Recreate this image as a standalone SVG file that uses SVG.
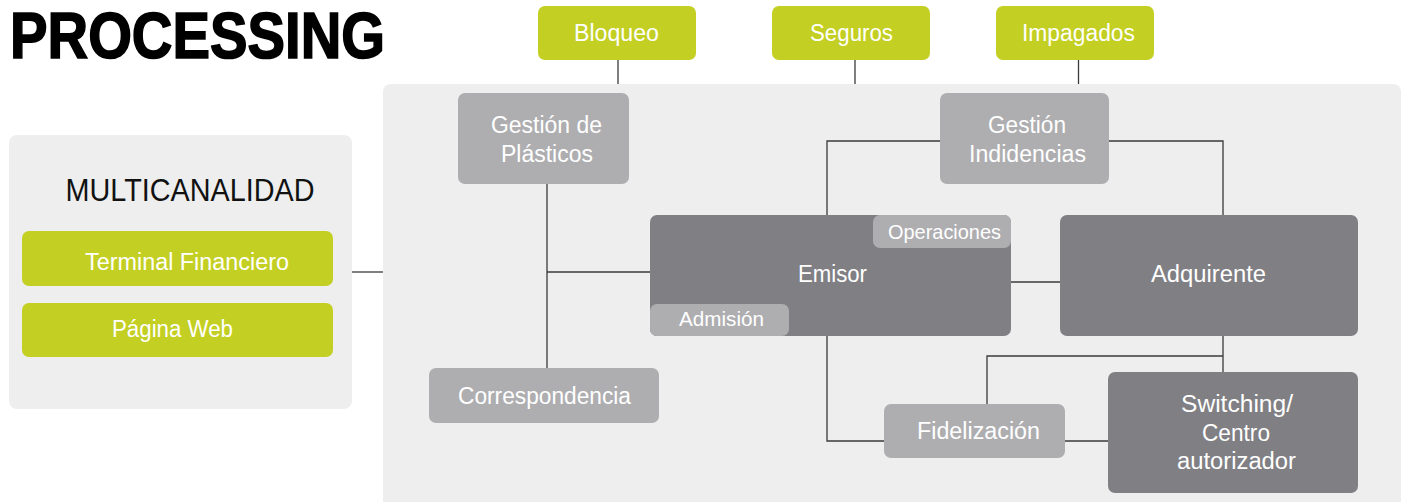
<svg xmlns="http://www.w3.org/2000/svg" width="1408" height="502" viewBox="0 0 1408 502">
<style>
.panel{fill:#eeeeee}
.green{fill:#c3cf22}
.light{fill:#aeaeb1}
.dark{fill:#807f84}
.lbl{font-family:"Liberation Sans","DejaVu Sans",sans-serif;font-size:23px;fill:#ffffff;text-anchor:middle}
.sm{font-size:21px}
.conn{fill:none;stroke:#3a3a3a;stroke-width:1.3}
</style>
<rect width="1408" height="502" fill="#ffffff"/>
<text x="10" y="58" font-family="Liberation Sans, sans-serif" font-weight="bold" font-size="64" fill="#000000" stroke="#000000" stroke-width="1.6" textLength="375" lengthAdjust="spacingAndGlyphs">PROCESSING</text>

<g id="panel-main"><rect class="panel" x="383" y="84" width="1018" height="430" rx="8"/></g>
<g id="panel-multicanalidad">
<rect class="panel" x="9" y="135" width="343" height="274" rx="8"/>
<text x="190" y="201" font-family="Liberation Sans, sans-serif" font-size="31" fill="#111111" text-anchor="middle" textLength="249" lengthAdjust="spacingAndGlyphs">MULTICANALIDAD</text>
</g>

<g id="connectors">
<line class="conn" x1="618" y1="60" x2="618" y2="84"/>
<line class="conn" x1="855" y1="60" x2="855" y2="84"/>
<line class="conn" x1="1078.5" y1="60" x2="1078.5" y2="84"/>
<line class="conn" x1="352" y1="272" x2="383" y2="272"/>
<line class="conn" x1="547" y1="184" x2="547" y2="368"/>
<line class="conn" x1="547" y1="272" x2="650" y2="272"/>
<polyline class="conn" points="940,141 827,141 827,215"/>
<polyline class="conn" points="1109,141 1223,141 1223,215"/>
<line class="conn" x1="1011" y1="282" x2="1060" y2="282"/>
<polyline class="conn" points="827,336 827,441 884,441"/>
<line class="conn" x1="1065" y1="441" x2="1108" y2="441"/>
<line class="conn" x1="1223" y1="336" x2="1223" y2="372"/>
<polyline class="conn" points="1223,356 987,356 987,404"/>
</g>

<g id="node-bloqueo"><rect class="green" x="538" y="6" width="158" height="54" rx="7"/><text class="lbl" x="616.5" y="41" textLength="85" lengthAdjust="spacingAndGlyphs">Bloqueo</text></g>
<g id="node-seguros"><rect class="green" x="772" y="6" width="158" height="54" rx="7"/><text class="lbl" x="851.5" y="41" textLength="83" lengthAdjust="spacingAndGlyphs">Seguros</text></g>
<g id="node-impagados"><rect class="green" x="996" y="6" width="158" height="54" rx="7"/><text class="lbl" x="1078.5" y="41" textLength="113" lengthAdjust="spacingAndGlyphs">Impagados</text></g>

<g id="node-terminal"><rect class="green" x="22" y="231" width="311" height="55" rx="7"/><text class="lbl" x="187" y="270" textLength="204" lengthAdjust="spacingAndGlyphs">Terminal Financiero</text></g>
<g id="node-pagina"><rect class="green" x="22" y="303" width="311" height="54" rx="7"/><text class="lbl" x="172.5" y="337" textLength="121" lengthAdjust="spacingAndGlyphs">Página Web</text></g>

<g id="node-plasticos"><rect class="light" x="458" y="93" width="171" height="91" rx="7"/><text class="lbl" x="546.5" y="133" textLength="111" lengthAdjust="spacingAndGlyphs">Gestión de</text><text class="lbl" x="547" y="162" textLength="92" lengthAdjust="spacingAndGlyphs">Plásticos</text></g>
<g id="node-indidencias"><rect class="light" x="940" y="93" width="169" height="91" rx="7"/><text class="lbl" x="1027" y="133" textLength="78" lengthAdjust="spacingAndGlyphs">Gestión</text><text class="lbl" x="1027.5" y="162" textLength="117" lengthAdjust="spacingAndGlyphs">Indidencias</text></g>

<g id="node-correspondencia"><rect class="light" x="429" y="368" width="230" height="55" rx="7"/><text class="lbl" x="544.5" y="404" textLength="173" lengthAdjust="spacingAndGlyphs">Correspondencia</text></g>

<g id="node-emisor"><rect class="dark" x="650" y="215" width="361" height="121" rx="7"/><text class="lbl" x="832.5" y="282" textLength="69" lengthAdjust="spacingAndGlyphs">Emisor</text></g>
<g id="node-operaciones"><rect class="light" x="873" y="215" width="138" height="33" rx="7"/><text class="lbl sm" x="944.5" y="239" textLength="113" lengthAdjust="spacingAndGlyphs">Operaciones</text></g>
<g id="node-admision"><rect class="light" x="650" y="304" width="139" height="32" rx="7"/><text class="lbl sm" x="721.5" y="326" textLength="85" lengthAdjust="spacingAndGlyphs">Admisión</text></g>

<g id="node-adquirente"><rect class="dark" x="1060" y="215" width="298" height="121" rx="7"/><text class="lbl" x="1208.5" y="282" textLength="115" lengthAdjust="spacingAndGlyphs">Adquirente</text></g>

<g id="node-fidelizacion"><rect class="light" x="884" y="404" width="181" height="54" rx="7"/><text class="lbl" x="978.5" y="439" textLength="123" lengthAdjust="spacingAndGlyphs">Fidelización</text></g>

<g id="node-switching"><rect class="dark" x="1108" y="372" width="250" height="121" rx="7"/><text class="lbl" x="1237" y="412" textLength="112" lengthAdjust="spacingAndGlyphs">Switching/</text><text class="lbl" x="1236" y="441" textLength="68" lengthAdjust="spacingAndGlyphs">Centro</text><text class="lbl" x="1236.5" y="469" textLength="119" lengthAdjust="spacingAndGlyphs">autorizador</text></g>
</svg>
